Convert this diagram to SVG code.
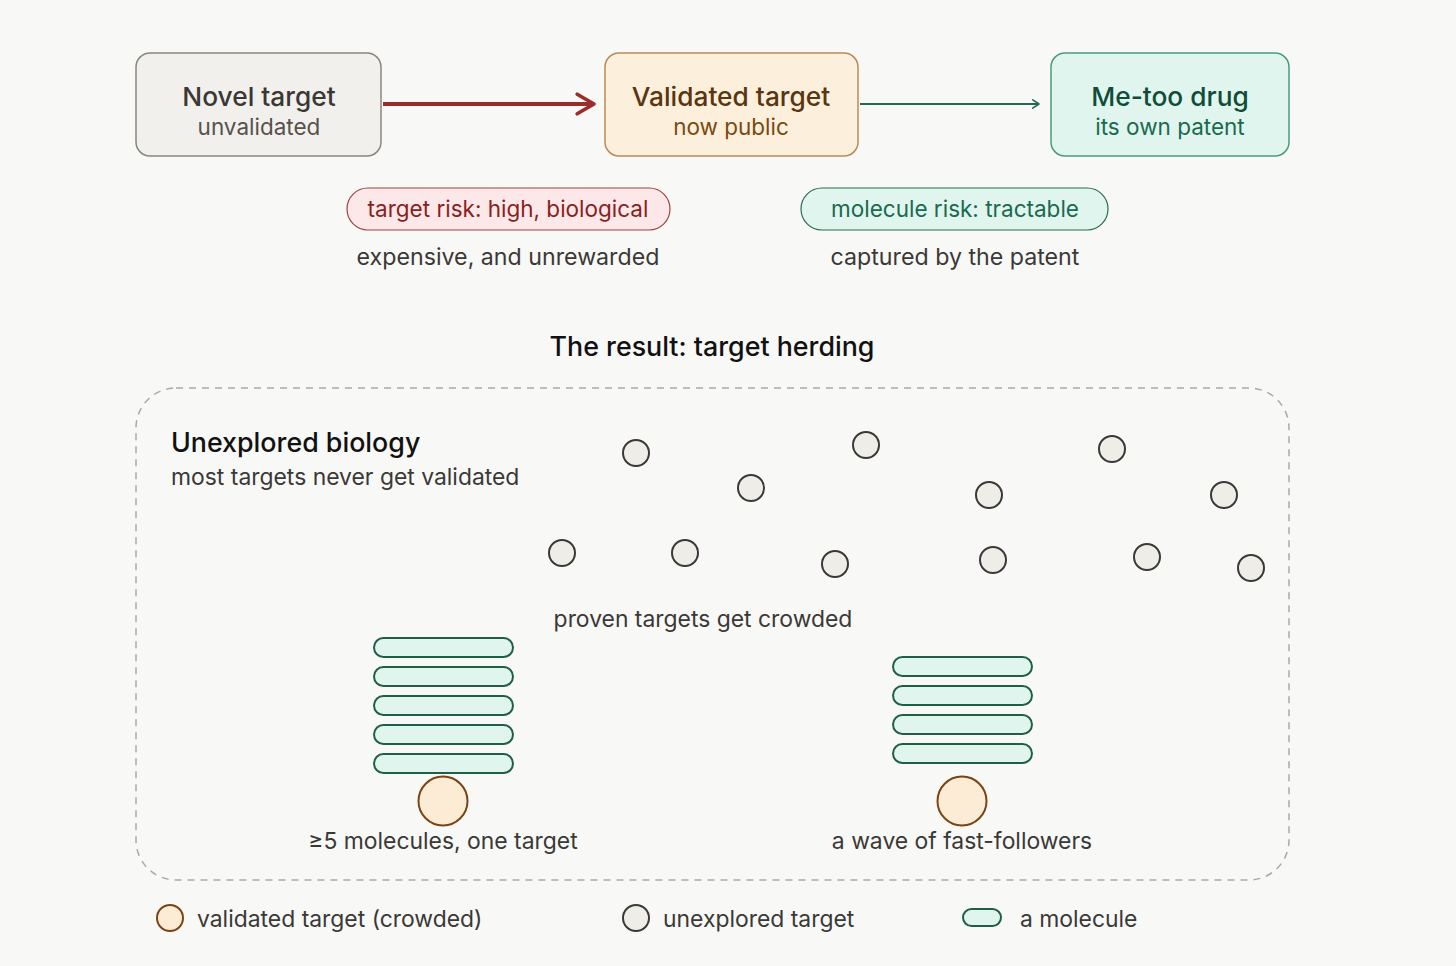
<svg xmlns="http://www.w3.org/2000/svg" width="1456" height="966" viewBox="0 0 1456 966">
<defs>
<style>
text{font-family:Inter,"Noto Sans","Liberation Sans",sans-serif;}
.t1{font-size:26.3px;font-weight:500;text-anchor:middle;}
.t2{font-size:22.5px;font-weight:400;text-anchor:middle;}
.t3{font-size:23.2px;font-weight:400;text-anchor:middle;fill:#3a3936;}
.lbl{font-size:22.9px;fill:#3a3936;}
.mid{text-anchor:middle;}
.unx{fill:#efede8;stroke:#3a3936;stroke-width:2;}
.val{fill:#fcebd5;stroke:#7a4515;stroke-width:2;}
.mol{fill:#e0f5ee;stroke:#1f5f4a;stroke-width:2;}
</style>
<marker id="ahR" viewBox="0 0 20 20" refX="16" refY="10" markerWidth="7" markerHeight="7" markerUnits="strokeWidth" orient="auto">
<path d="M4 3 L16 10 L4 17" fill="none" stroke="#9b2c2c" stroke-width="2.6" stroke-linecap="round" stroke-linejoin="round"/>
</marker>
<marker id="ahG" viewBox="0 0 20 20" refX="16" refY="10" markerWidth="7" markerHeight="7" markerUnits="strokeWidth" orient="auto">
<path d="M7 4 L16 10 L7 16" fill="none" stroke="#1f6b55" stroke-width="2.2" stroke-linecap="round" stroke-linejoin="round"/>
</marker>
</defs>
<rect width="1456" height="966" fill="#f8f8f6"/>

<g id="connectors">
<line x1="383" y1="104" x2="594" y2="104" stroke="#9b2c2c" stroke-width="4" marker-end="url(#ahR)"/>
<line x1="860" y1="104" x2="1039" y2="104" stroke="#1f6b55" stroke-width="2" marker-end="url(#ahG)"/>
</g>

<g id="novel">
<rect x="136" y="53" width="245" height="103" rx="14" fill="#f2f0ec" stroke="#8a8580" stroke-width="1.5"/>
<text class="t1" x="259" y="106" fill="#3a3835">Novel target</text>
<text class="t2" x="259" y="135" fill="#55524e">unvalidated</text>
</g>
<g id="validated">
<rect x="605" y="53" width="253" height="103" rx="14" fill="#fcf0dc" stroke="#b8895a" stroke-width="1.5"/>
<text class="t1" x="731" y="106" fill="#5a3510">Validated target</text>
<text class="t2" x="731" y="135" fill="#7a4a10">now public</text>
</g>
<g id="metoo">
<rect x="1051" y="53" width="238" height="103" rx="14" fill="#e0f5ee" stroke="#4a9a80" stroke-width="1.5"/>
<text class="t1" x="1170" y="106" fill="#0f4d38">Me-too drug</text>
<text class="t2" x="1170" y="135" fill="#1a6a50">its own patent</text>
</g>

<g id="target-risk">
<rect x="347" y="188" width="323" height="42" rx="21" fill="#fce8e8" stroke="#a04040" stroke-width="1.2"/>
<text class="t2" x="508" y="217" fill="#8b1e1e">target risk: high, biological</text>
<text class="t3" x="508" y="265">expensive, and unrewarded</text>
</g>
<g id="molecule-risk">
<rect x="801" y="188" width="307" height="42" rx="21" fill="#e0f5ee" stroke="#2a6a55" stroke-width="1.2"/>
<text class="t2" x="955" y="217" fill="#1a6a50">molecule risk: tractable</text>
<text class="t3" x="955" y="265">captured by the patent</text>
</g>

<text x="712" y="356" text-anchor="middle" font-size="26.8" font-weight="500" fill="#111">The result: target herding</text>

<g id="unexplored-biology">
<rect x="136" y="388" width="1153" height="492" rx="40" fill="none" stroke="#aaa9a5" stroke-width="1.5" stroke-dasharray="7 6"/>
<text x="171" y="452" font-size="26.8" font-weight="500" fill="#111">Unexplored biology</text>
<text class="lbl" x="171" y="485">most targets never get validated</text>
</g>

<g id="unexplored-targets">
<circle class="unx" cx="636" cy="453" r="13"/>
<circle class="unx" cx="751" cy="488" r="13"/>
<circle class="unx" cx="866" cy="445" r="13"/>
<circle class="unx" cx="989" cy="495" r="13"/>
<circle class="unx" cx="1112" cy="449" r="13"/>
<circle class="unx" cx="1224" cy="495" r="13"/>
<circle class="unx" cx="562" cy="553" r="13"/>
<circle class="unx" cx="685" cy="553" r="13"/>
<circle class="unx" cx="835" cy="564" r="13"/>
<circle class="unx" cx="993" cy="560" r="13"/>
<circle class="unx" cx="1147" cy="557" r="13"/>
<circle class="unx" cx="1251" cy="568" r="13"/>
</g>

<text class="lbl mid" x="703" y="627">proven targets get crowded</text>

<g id="stack-1">
<rect class="mol" x="374" y="638" width="139" height="19" rx="9.5"/>
<rect class="mol" x="374" y="667" width="139" height="19" rx="9.5"/>
<rect class="mol" x="374" y="696" width="139" height="19" rx="9.5"/>
<rect class="mol" x="374" y="725" width="139" height="19" rx="9.5"/>
<rect class="mol" x="374" y="754" width="139" height="19" rx="9.5"/>
<circle class="val" cx="443" cy="801" r="24.5"/>
<text class="lbl mid" x="443" y="849">≥5 molecules, one target</text>
</g>

<g id="stack-2">
<rect class="mol" x="893" y="657" width="139" height="19" rx="9.5"/>
<rect class="mol" x="893" y="686" width="139" height="19" rx="9.5"/>
<rect class="mol" x="893" y="715" width="139" height="19" rx="9.5"/>
<rect class="mol" x="893" y="744" width="139" height="19" rx="9.5"/>
<circle class="val" cx="962" cy="801" r="24.5"/>
<text class="lbl mid" x="962" y="849">a wave of fast-followers</text>
</g>

<g id="legend">
<circle class="val" cx="170" cy="918" r="13"/>
<text class="lbl" x="197" y="927">validated target (crowded)</text>
<circle class="unx" cx="636" cy="918" r="13"/>
<text class="lbl" x="663" y="927">unexplored target</text>
<rect class="mol" x="963" y="909" width="38" height="17" rx="8.5"/>
<text class="lbl" x="1020" y="927">a molecule</text>
</g>
</svg>
